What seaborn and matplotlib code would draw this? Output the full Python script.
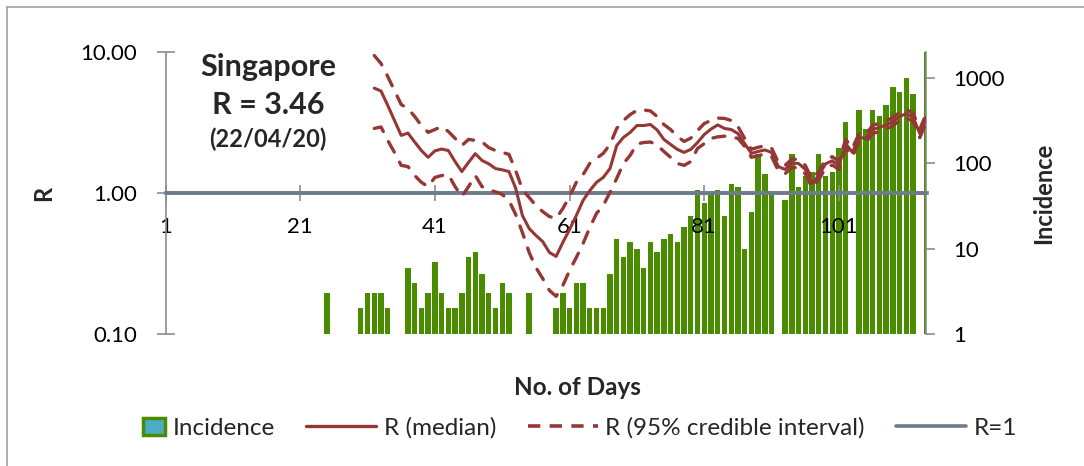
import matplotlib
matplotlib.use("Agg")
import numpy as np
import pandas as pd
import matplotlib.pyplot as plt
import matplotlib.patches as mpatches
from matplotlib.lines import Line2D
from matplotlib.legend_handler import HandlerPatch
import seaborn as sns

# ---------------------------------------------------------------------
# Data
# ---------------------------------------------------------------------
inc_days = [25,
            30, 31, 32, 33, 34,
            37, 38, 39, 40, 41, 42, 43, 44, 45, 46, 47, 48, 49, 50, 51, 52,
            55,
            59, 60, 61, 62, 63, 64, 65, 66, 67, 68, 69, 70, 71, 72, 73, 74,
            75, 76, 77, 78, 79, 80, 81, 82, 83, 84, 85, 86, 87, 88, 89, 90, 91,
            93, 94, 95, 96, 97, 98, 99, 100, 101, 102,
            104, 105, 106, 107, 108, 109, 110, 111, 112,
            114]
incidence = [3,
             2, 3, 3, 3, 2,
             6, 4, 2, 3, 7, 3, 2, 2, 3, 8, 9, 5, 3, 2, 4, 3,
             3,
             2, 3, 2, 4, 4, 2, 2, 2, 5, 13, 8, 12, 10, 6, 12, 9,
             13, 15, 12, 18, 24, 49, 34, 43, 49, 24, 57, 52, 10, 27, 129, 75, 44,
             37, 129, 52, 70, 79, 129, 70, 79, 152, 306,
             423, 250, 415, 360, 478, 778, 675, 1000, 639,
             2000]

r_days = list(range(32, 115))
r_median = [5.54, 5.29, 4.18, 3.27, 2.56, 2.66, 2.30, 2.00, 1.79, 1.99, 2.05,
            2.00, 1.67, 1.42, 1.65, 1.90, 1.70, 1.61, 1.49, 1.46, 1.42,
            1.08, 0.692, 0.560, 0.500, 0.453, 0.379, 0.355, 0.446,
            0.551, 0.692, 0.885, 1.04, 1.19, 1.29, 1.49, 2.17, 2.48, 2.69,
            3.01, 3.01, 3.06,
            2.80, 2.40, 2.21, 2.04, 1.94, 2.04, 2.28, 2.60, 2.84, 3.04, 2.87,
            2.82, 2.64, 2.24,
            1.91, 1.97, 2.02, 1.94, 1.54, 1.47, 1.63, 1.62, 1.47, 1.17, 1.33,
            1.61, 1.69, 1.57, 2.24, 1.94, 2.48, 2.44, 2.82, 2.92, 3.04, 3.21,
            3.49, 3.65, 3.46, 2.64, 3.46]
r_upper = [9.44, 8.29, 6.70, 5.33, 4.24, 3.97, 3.49, 3.01, 2.69, 2.82, 2.96,
           2.73, 2.44, 2.17, 2.40, 2.36, 2.30, 2.10, 2.00, 1.94, 1.88,
           1.44, 1.06, 0.929, 0.815, 0.739, 0.681, 0.659, 0.776,
           0.944, 1.19, 1.35, 1.62, 1.76, 1.91, 2.21, 2.87, 3.27, 3.60,
           3.85, 3.88, 3.82,
           3.49, 3.06, 2.82, 2.52, 2.32, 2.45, 2.77, 3.11, 3.27, 3.40, 3.38,
           3.27, 2.96, 2.44,
           2.04, 2.11, 2.16, 2.08, 1.65, 1.57, 1.74, 1.73, 1.57, 1.25, 1.42,
           1.72, 1.81, 1.68, 2.40, 2.08, 2.65, 2.61, 3.02, 3.12, 3.25, 3.43,
           3.73, 3.91, 3.70, 2.82, 3.70]
r_lower = [2.87, 2.94, 2.36, 1.94, 1.57, 1.54, 1.33, 1.19, 1.11, 1.29, 1.33,
           1.35, 1.11, 0.944, 1.11, 1.33, 1.11, 1.05, 1.02, 0.976, 0.885,
           0.704, 0.524, 0.379, 0.296, 0.248, 0.204, 0.185, 0.221,
           0.282, 0.349, 0.438, 0.569, 0.716, 0.815, 1.01, 1.27, 1.62, 1.85,
           2.23, 2.28, 2.30,
           2.19, 1.97, 1.79, 1.62, 1.57, 1.67, 2.07, 2.24, 2.44, 2.50, 2.53,
           2.50, 2.44, 2.14,
           1.79, 1.84, 1.89, 1.81, 1.44, 1.37, 1.52, 1.51, 1.37, 1.09, 1.24,
           1.50, 1.58, 1.47, 2.09, 1.81, 2.32, 2.28, 2.64, 2.73, 2.84, 3.00,
           3.26, 3.41, 3.23, 2.47, 3.23]
r_ref = 1.0

x_ticks = [1, 21, 41, 61, 81, 101]
r_ticks = [0.1, 1, 10]
r_tick_labels = ["0.10", "1.00", "10.00"]
inc_ticks = [1, 10, 100, 1000]
inc_tick_labels = ["1", "10", "100", "1000"]

# ---------------------------------------------------------------------
# Style
# ---------------------------------------------------------------------
sns.set_theme(style="white")
plt.rcParams["font.family"] = ["Lato", "DejaVu Sans"]

GREEN = "#4A8C00"
BLUE = "#4BACC6"
DARKRED = "#953735"
SLATE = "#6D7C8C"
GREY = "#8C8C8C"
FS = 16
DASH = (0, (3.6, 3.4))

df_inc = pd.DataFrame({"day": inc_days, "incidence": incidence})
df_r = pd.DataFrame({"day": r_days, "median": r_median,
                     "upper": r_upper, "lower": r_lower})

fig = plt.figure(figsize=(10.84, 4.66), dpi=100)
ax = fig.add_axes([165.5 / 1084, 1 - 334 / 466, 761 / 1084, 282 / 466])
ax2 = ax.twinx()

# bars on the secondary (incidence) axis, drawn behind the R lines
ax2.set_yscale("log")
sns.barplot(data=df_inc, x="day", y="incidence", native_scale=True,
            color=GREEN, saturation=1, width=0.8, linewidth=0, ax=ax2)
ax2.set_ylim(1, 2000)

ax.set_yscale("log")
ax.axhline(r_ref, color=SLATE, lw=2.6, zorder=3)
sns.lineplot(data=df_r, x="day", y="upper", color=DARKRED, lw=2.4,
             linestyle=DASH, dash_capstyle="round", ax=ax, zorder=4)
sns.lineplot(data=df_r, x="day", y="lower", color=DARKRED, lw=2.4,
             linestyle=DASH, dash_capstyle="round", ax=ax, zorder=4)
sns.lineplot(data=df_r, x="day", y="median", color=DARKRED, lw=2.2, ax=ax,
             zorder=5)

ax.set_zorder(ax2.get_zorder() + 1)
ax.patch.set_visible(False)

ax.set_xlim(1, 114)
ax.set_ylim(0.1, 10)

# axes look
for s in ["top", "right"]:
    ax.spines[s].set_visible(False)
ax.spines["left"].set_color(GREY)
ax.spines["left"].set_linewidth(1.2)
ax.spines["bottom"].set_position(("data", 1))
ax.spines["bottom"].set_color(SLATE)
ax.spines["bottom"].set_linewidth(2.6)
for s in ["top", "left", "bottom"]:
    ax2.spines[s].set_visible(False)
ax2.spines["right"].set_color(GREY)
ax2.spines["right"].set_linewidth(1.2)

ax.set_xticks(x_ticks)
ax.set_xticklabels([str(t) for t in x_ticks])
ax.set_yticks(r_ticks)
ax.set_yticklabels(r_tick_labels)
ax.yaxis.set_minor_locator(matplotlib.ticker.NullLocator())
ax.tick_params(axis="x", direction="inout", length=12, width=1.2, color=GREY,
               pad=11, labelsize=FS, labelcolor="black", bottom=True)
ax.tick_params(axis="y", direction="inout", length=13, width=1.2, color=GREY,
               pad=14, labelsize=FS, labelcolor="black", left=True)

ax2.set_yticks(inc_ticks)
ax2.set_yticklabels(inc_tick_labels)
ax2.yaxis.set_minor_locator(matplotlib.ticker.NullLocator())
ax2.tick_params(axis="y", direction="out", length=6.5, width=1.2, color=GREY,
                pad=12.5, labelsize=FS, labelcolor="black", right=True)
ax2.set_xlabel("")

ax.set_xlabel("No. of Days", fontsize=17.5, fontweight="bold")
ax.xaxis.set_label_coords(0.5407, -0.149)
ax.set_ylabel("R", fontsize=17, fontweight="bold")
ax.yaxis.set_label_coords(-0.145, 0.5)
ax2.set_ylabel("Incidence", fontsize=17, fontweight="bold", rotation=90)
ax2.yaxis.set_label_coords(1.1386, 0.5)

# country annotation
ax.text(0.1347, 0.9468, "Singapore", transform=ax.transAxes, ha="center",
        va="center", fontsize=22, fontweight="bold")
ax.text(0.1347, 0.8121, "R = 3.46", transform=ax.transAxes, ha="center",
        va="center", fontsize=22, fontweight="bold")
ax.text(0.1347, 0.6915, "(22/04/20)", transform=ax.transAxes, ha="center",
        va="center", fontsize=17, fontweight="bold")


# legend
def small_box(legend, orig_handle, xdescent, ydescent, width, height, fontsize):
    w = 16
    return mpatches.Rectangle((width - w - xdescent, -ydescent), w, height)


LFS = 17.5
handles = [
    mpatches.Patch(facecolor=BLUE, edgecolor=GREEN, linewidth=2.5),
    Line2D([], [], color=DARKRED, lw=2.4),
    Line2D([], [], color=DARKRED, lw=2.6, linestyle=(0, (3.4, 2.6))),
    Line2D([], [], color=SLATE, lw=2.6),
]
labels = ["Incidence", "R (median)", "R (95% credible interval)", "R=1"]
fig.legend(handles, labels, loc="center", bbox_to_anchor=(0.513, 1 - 428 / 466),
           ncol=4, frameon=False, fontsize=LFS, handlelength=2.88,
           handletextpad=0.3, columnspacing=1.3,
           handler_map={handles[0]: HandlerPatch(patch_func=small_box)})

# chart-area border (top and left edges visible)
fig.add_artist(Line2D([7 / 1084, 7 / 1084], [0, 1 - 7 / 466], color="#A0A0A0",
                      lw=1.2, transform=fig.transFigure))
fig.add_artist(Line2D([7 / 1084, 1], [1 - 7 / 466, 1 - 7 / 466], color="#A0A0A0",
                      lw=1.2, transform=fig.transFigure))

fig.savefig("out.png", dpi=100)
